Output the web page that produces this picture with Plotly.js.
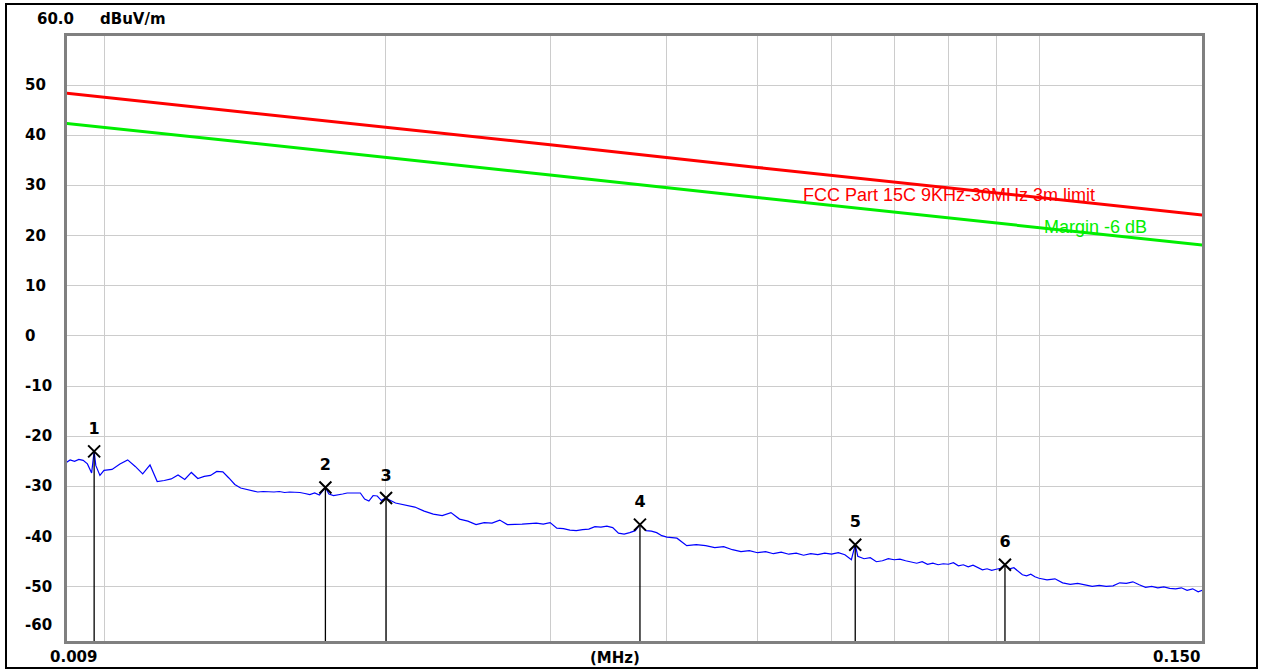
<!DOCTYPE html>
<html>
<head>
<meta charset="utf-8">
<script src="https://cdn.plot.ly/plotly-3.0.1.min.js"></script>
<style>html,body{margin:0;padding:0;background:#fff;}#chart{width:1270px;height:671px;}</style>
</head>
<body>
<div id="chart"></div>
<script>
// ---- Data ----
const traceFreqKHz = [9.1,9.2,9.3,9.4,9.5,9.6,9.7,9.76,9.8,9.9,10.0,
10.2,10.4,10.6,10.8,11.0,11.2,11.4,11.6,11.8,12.0,12.2,12.4,12.6,12.8,13.0,13.2,13.4,13.6,13.8,14.0,14.2,14.4,14.6,14.8,15.0,15.2,15.4,15.6,15.8,16.0,16.2,16.4,16.6,16.8,17.0,17.25,17.4,17.6,17.8,18.0,18.2,18.4,18.6,18.8,19.0,19.2,19.4,19.6,19.8,20.0,
20.5,21,21.5,22,22.5,23,23.5,24,24.5,25,25.5,26,26.5,27,27.5,28,28.5,29,29.5,30,30.5,31,31.5,32,32.5,33,33.5,34,34.5,35,35.5,36,36.5,37,37.43,38,38.5,39,39.5,40,
41,42,43,44,45,46,47,48,49,50,51,52,53,54,55,56,57,58,59,60,61,62,63,63.6,64,65,66,67,68,69,70,71,72,73,74,75,76,77,78,79,80,81,82,83,84,85,86,87,88,89,90,91,91.96,93,94,95,96,97,98,99,100,
102,104,106,108,110,112,114,116,118,120,122,124,126,128,130,132,134,136,138,140,142,144,146,148,150];
const traceLevel = [-25.3,-24.7,-25.0,-24.6,-24.8,-25.5,-27.3,-23.0,-25.8,-27.8,-26.8,
-26.6,-25.5,-24.7,-26.0,-27.5,-25.7,-29.0,-28.8,-28.5,-27.7,-28.6,-27.2,-28.4,-28.0,-27.8,-27.0,-27.1,-28.3,-29.6,-30.3,-30.6,-30.8,-31.1,-31.0,-31.1,-31.1,-31.0,-31.2,-31.1,-31.1,-31.2,-31.4,-31.6,-31.3,-31.7,-30.2,-31.5,-31.8,-31.7,-31.5,-31.3,-31.3,-31.4,-31.3,-32.5,-32.9,-31.8,-31.9,-32.8,-32.3,
-33.3,-33.7,-34.1,-34.9,-35.5,-35.8,-35.2,-36.5,-36.9,-37.6,-37.2,-37.3,-36.7,-37.6,-37.6,-37.5,-37.4,-37.3,-37.5,-37.2,-38.3,-38.4,-38.7,-38.8,-38.6,-38.5,-38.0,-38.1,-37.9,-38.2,-39.3,-39.5,-39.2,-38.8,-37.6,-38.8,-38.9,-39.2,-39.8,-40.1,
-40.3,-41.8,-41.6,-41.8,-42.2,-42.0,-42.6,-43.0,-42.8,-43.2,-43.0,-43.4,-43.1,-43.5,-43.3,-43.7,-43.4,-43.6,-43.3,-43.5,-43.2,-43.6,-44.6,-41.6,-43.9,-44.4,-44.2,-45.0,-44.8,-44.4,-44.6,-44.5,-44.8,-45.0,-45.3,-45.0,-45.5,-45.3,-45.6,-45.4,-45.5,-45.2,-45.8,-45.6,-46.0,-45.7,-46.2,-46.6,-46.4,-46.7,-46.5,-46.3,-45.6,-46.4,-46.2,-47.0,-47.6,-47.8,-47.5,-48.0,-48.3,
-48.6,-48.4,-49.2,-49.5,-49.3,-49.6,-49.9,-49.7,-49.9,-49.8,-49.2,-49.3,-49.0,-49.6,-50.1,-49.9,-50.2,-50.0,-50.3,-50.4,-50.2,-50.7,-50.4,-51.0,-50.6];

const limitFreqKHz = [9, 10, 20, 30, 50, 100, 150];
const limitLevel   = [48.5, 47.6, 41.6, 38.1, 33.6, 27.6, 24.1];
const marginLevel  = [42.5, 41.6, 35.6, 32.1, 27.6, 21.6, 18.1];

const markerFreqKHz = [9.76, 17.25, 20.03, 37.43, 63.6, 91.96];
const markerLevel   = [-23.0, -30.2, -32.3, -37.6, -41.6, -45.6];
const markerLabels  = ['1','2','3','4','5','6'];

const yTickVals   = [50, 40, 30, 20, 10, 0, -10, -20, -30, -40, -50];
const yTickLabels = ['50','40','30','20','10','0','-10','-20','-30','-40','-50'];
const xGridVals   = [0.01,0.02,0.03,0.04,0.05,0.06,0.07,0.08,0.09,0.1];

const limitName  = 'FCC Part 15C 9KHz-30MHz 3m limit';
const marginName = 'Margin -6 dB';
const yUnit = 'dBuV/m';
const yTopLabel = '60.0';
const yBottomLabel = '-60';
const xLeftLabel = '0.009', xRightLabel = '0.150', xUnit = '(MHz)';

// ---- Build ----
const toMHz = a => a.map(v => v / 1000);
const yMin = -60.8, yMax = 59.8;
const boldFont = {family: 'DejaVu Sans', size: 15, color: '#000', weight: 'bold'};

const mX = toMHz(markerFreqKHz);
const stemX = [], stemY = [];
mX.forEach((f, i) => { stemX.push(f, f, null); stemY.push(markerLevel[i], yMin, null); });

const data = [
  {x: toMHz(limitFreqKHz), y: limitLevel, mode: 'lines', line: {color: '#ff0000', width: 3}, hoverinfo: 'skip'},
  {x: toMHz(limitFreqKHz), y: marginLevel, mode: 'lines', line: {color: '#00ee00', width: 3}, hoverinfo: 'skip'},
  {x: toMHz(traceFreqKHz), y: traceLevel, mode: 'lines', line: {color: '#0000ff', width: 1.2}, hoverinfo: 'skip'},
  {x: stemX, y: stemY, mode: 'lines', line: {color: '#000', width: 1.3}, hoverinfo: 'skip'},
  {x: mX, y: markerLevel, mode: 'markers', marker: {symbol: 'x-thin-open', size: 12, color: '#000', line: {color: '#000', width: 2}}, hoverinfo: 'skip'},
  {x: mX, y: markerLevel, mode: 'markers+text', text: markerLabels, textposition: 'top center',
   textfont: {family: 'DejaVu Sans', size: 16, color: '#000', weight: 'bold'}, marker: {size: 20, opacity: 0}, hoverinfo: 'skip'}
];

const L = 67, R = 1202, T = 36, B = 641;
const pw = R - L, ph = B - T;
const px = p => (p - L) / pw;
const py = p => (B - p) / ph;

const annotations = [];
yTickVals.forEach((v, i) => annotations.push({xref: 'paper', yref: 'y', x: px(23), y: v, text: yTickLabels[i],
  showarrow: false, xanchor: 'left', yanchor: 'middle', font: boldFont}));
annotations.push({xref: 'paper', yref: 'paper', x: px(23), y: py(625), text: yBottomLabel, showarrow: false, xanchor: 'left', yanchor: 'middle', font: boldFont});
annotations.push({xref: 'paper', yref: 'paper', x: px(35), y: py(19), text: yTopLabel, showarrow: false, xanchor: 'left', yanchor: 'middle', font: boldFont});
annotations.push({xref: 'paper', yref: 'paper', x: px(98), y: py(19), text: yUnit, showarrow: false, xanchor: 'left', yanchor: 'middle', font: boldFont});
annotations.push({xref: 'paper', yref: 'paper', x: px(73), y: py(657), text: xLeftLabel, showarrow: false, xanchor: 'center', yanchor: 'middle', font: boldFont});
annotations.push({xref: 'paper', yref: 'paper', x: px(615), y: py(658), text: xUnit, showarrow: false, xanchor: 'center', yanchor: 'middle', font: boldFont});
annotations.push({xref: 'paper', yref: 'paper', x: px(1202), y: py(657), text: xRightLabel, showarrow: false, xanchor: 'right', yanchor: 'middle', font: boldFont});
annotations.push({xref: 'paper', yref: 'paper', x: px(801), y: py(195), text: limitName, showarrow: false, xanchor: 'left', yanchor: 'middle',
  font: {family: 'Liberation Sans', size: 18, color: '#ff0000'}});
annotations.push({xref: 'paper', yref: 'paper', x: px(1042), y: py(227), text: marginName, showarrow: false, xanchor: 'left', yanchor: 'middle',
  font: {family: 'Liberation Sans', size: 18, color: '#00ee00'}});

const layout = {
  width: 1270, height: 671,
  margin: {l: L, r: 1270 - R, t: T, b: 671 - B, pad: 0},
  paper_bgcolor: '#fff', plot_bgcolor: '#fff',
  showlegend: false,
  xaxis: {type: 'log', range: [Math.log10(0.01) - 37/935, -1 + 163/935], tickvals: xGridVals, showticklabels: false,
    ticks: '', showgrid: true, gridcolor: '#cccccc', gridwidth: 1, zeroline: false,
    showline: true, mirror: true, linecolor: '#808080', linewidth: 3},
  yaxis: {range: [yMin, yMax], tickvals: yTickVals, showticklabels: false, ticks: '',
    showgrid: true, gridcolor: '#cccccc', gridwidth: 1, zeroline: false,
    showline: true, mirror: true, linecolor: '#808080', linewidth: 3},
  annotations: annotations,
  shapes: [{type: 'rect', xref: 'paper', yref: 'paper', x0: px(6), x1: px(1257), y0: py(668), y1: py(4),
    line: {color: '#000', width: 2}, fillcolor: 'rgba(0,0,0,0)', layer: 'below'}]
};

Plotly.newPlot('chart', data, layout, {staticPlot: true, displayModeBar: false});
</script>
</body>
</html>
